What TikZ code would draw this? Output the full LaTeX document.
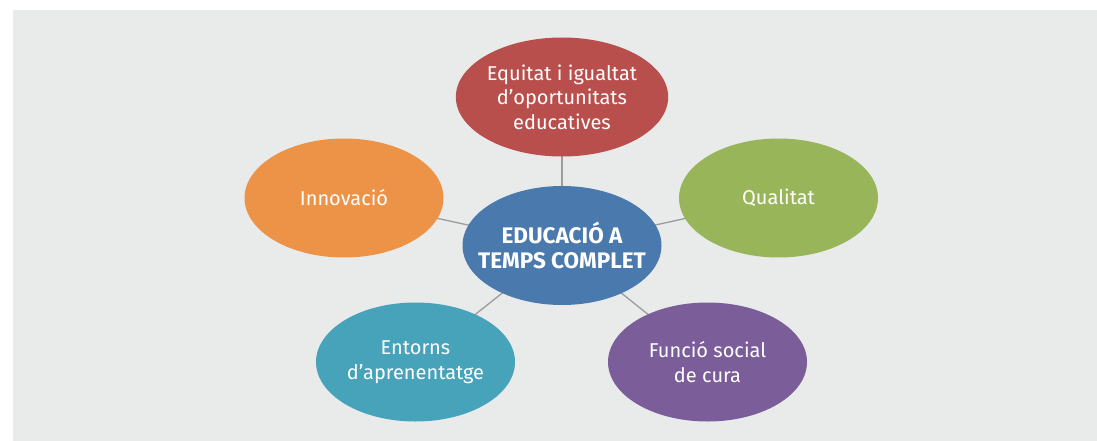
\documentclass[tikz,border=0pt]{standalone}
\usepackage{fontspec}
\setmainfont{Fira Sans}
\usetikzlibrary{shapes.geometric}
\definecolor{bg}{HTML}{E9EBEA}
\definecolor{cred}{HTML}{B84F4D}
\definecolor{corange}{HTML}{EC9348}
\definecolor{cgreen}{HTML}{99B55A}
\definecolor{cblue}{HTML}{4A79AE}
\definecolor{cteal}{HTML}{47A3BA}
\definecolor{cpurple}{HTML}{7B5E99}
\definecolor{lgray}{HTML}{9A9C9C}
\tikzset{
  bubble/.style={ellipse, minimum width=199pt, minimum height=119pt, inner sep=0pt,
    text=white, align=center, font=\fontsize{20}{24.5}\selectfont},
  hub/.style={bubble, inner xsep=-20pt, font=\fontsize{22.5}{25}\selectfont\bfseries},
  link/.style={draw=lgray, line width=1.3pt}
}
\begin{document}
\begin{tikzpicture}[x=1pt,y=-1pt]
\useasboundingbox (0,0) rectangle (1097,441);
\fill[white] (0,0) rectangle (1097,441);
\fill[bg] (13,10) rectangle (1097,441);
\coordinate (cR) at (562,97);
\coordinate (cO) at (344,198);
\coordinate (cG) at (778.5,198);
\coordinate (cB) at (562,245.5);
\coordinate (cT) at (415.5,362);
\coordinate (cP) at (707.5,362);
\draw[link] (cB) -- (cR);
\draw[link] (cB) -- (cO);
\draw[link] (cB) -- (cG);
\draw[link] (cB) -- (cT);
\draw[link] (cB) -- (cP);
\node[bubble, fill=cred] (red) at (cR) {Equitat i igualtat\\d’oportunitats\\educatives};
\node[bubble, fill=corange] (orange) at (cO) {Innovació};
\node[bubble, fill=cgreen] (green) at (cG) {Qualitat};
\node[bubble, fill=cteal] (teal) at (cT) {Entorns\\d’aprenentatge};
\node[bubble, fill=cpurple] (purple) at (cP) {Funció social\\de cura};
\node[hub, fill=cblue] (hub) at (cB) {EDUCACIÓ A\\TEMPS COMPLET};
\end{tikzpicture}
\end{document}
